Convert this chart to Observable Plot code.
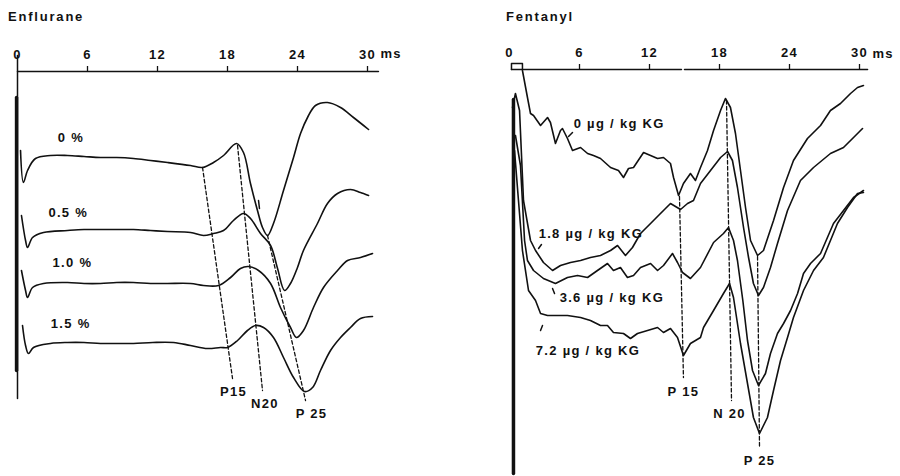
<!DOCTYPE html>
<html><head><meta charset="utf-8">
<script src="https://cdn.jsdelivr.net/npm/d3@7"></script>
<script src="https://cdn.jsdelivr.net/npm/@observablehq/plot@0.6"></script>
<style>
body{margin:0;background:#fff;}
#wrap{position:relative;width:900px;height:476px;overflow:hidden;background:#fff;}
#left,#right{position:absolute;top:0;width:450px;height:476px;}
#left{left:0}#right{left:450px}
.title{position:absolute;top:10px;font:bold 13px "Liberation Sans",Arial,sans-serif;letter-spacing:1.8px;color:#111;line-height:1;}
</style></head><body>
<div id="wrap"><div id="left"></div><div id="right"></div>
<div class="title" style="left:8px">Enflurane</div>
<div class="title" style="left:506px">Fentanyl</div></div>
<script>
// ---------- shared ----------
const tickValues = [0, 6, 12, 18, 24, 30];
const tickLabels = ["0", "6", "12", "18", "24", "30"];
const unitLabel = "ms";

// ---------- Enflurane (latency ms, deflection units below time axis) ----------
const enfNames = ["0 %", "0.5 %", "1.0 %", "1.5 %"];
const enf00 = [[0.26,79],[0.51,111],[0.86,99],[1.54,87],[2.83,84],[4.29,84],[5.7,85],[7.11,86],[8.5,86],[9.94,87],[11.4,89],[12.86,91],[14.83,94],[15.86,96],[16.8,91],[17.66,84],[18.77,72],[19.37,81],[19.97,112],[20.57,139],[21.0,156],[21.43,164],[21.94,152],[22.8,119],[23.66,86],[24.26,62],[24.86,46],[25.54,34],[26.57,31],[27.69,36],[28.8,46],[30.09,58]];
const enf05 = [[0.34,144],[0.69,169],[0.86,176],[1.29,166],[2.23,161],[4.29,159],[5.7,158],[7.11,158],[8.5,158],[9.94,158],[11.4,159],[12.86,160],[14.83,161],[15.94,164],[16.8,162],[17.66,159],[18.51,149],[19.37,142],[19.97,147],[20.83,162],[21.69,174],[22.29,197],[22.89,219],[23.4,212],[24.0,196],[24.51,179],[25.71,152],[26.57,132],[27.43,122],[28.54,118],[29.4,121],[30.09,124]];
const enf10 = [[0.34,199],[0.69,219],[0.86,226],[1.29,216],[2.23,212],[4.29,211],[5.7,212],[7.11,212],[8.5,211],[9.94,211],[11.4,212],[12.86,212],[14.83,212],[15.94,214],[17.23,214],[18.26,206],[19.11,197],[19.8,195],[20.66,199],[21.69,212],[22.54,236],[23.4,256],[23.91,266],[24.51,259],[25.37,236],[26.23,216],[27.43,199],[28.29,189],[29.4,186],[30.43,182]];
const enf15 = [[0.43,254],[0.69,274],[0.94,282],[1.37,276],[2.83,272],[4.29,271],[5.7,271],[7.11,272],[8.5,272],[9.94,272],[11.6,271],[13.37,271],[14.83,274],[16.29,277],[17.4,276],[18.0,276],[18.86,269],[19.71,259],[20.4,254],[21.09,256],[21.94,266],[22.8,286],[23.66,306],[24.6,320],[25.29,316],[25.97,299],[26.83,279],[27.69,266],[28.54,256],[29.4,247],[30.43,245]];
const enfLabelAt = [[3.45,66],[2.65,141],[3.0,191],[2.85,252]];
const enfPeaks = ["P15", "N20", "P 25"];
const enfPeakLines = [[[15.86,96],[18.43,307]], [[18.86,74],[21.0,319]], [[21.43,164],[24.69,329]]];
const enfPeakLabelAt = [[18.51,320],[21.2,332],[25.2,342]];
const enfArtifact = [[0,-16],[0,327]];
const enfArtifactCore = [[-0.08,26],[-0.08,299]];
const enfAxis = [[0,0],[30.94,0]];
const enfMark = [[20.66,129],[20.74,137]];

// ---------- Fentanyl ----------
const fenNames = ["0 µg / kg KG", "1.8 µg / kg KG", "3.6 µg / kg KG", "7.2 µg / kg KG"];
const fen00 = [[1.11,1],[1.54,28],[1.8,44],[2.06,46],[2.66,56],[3.26,48],[3.51,53],[3.94,74],[4.37,61],[4.54,59],[4.97,69],[5.4,81],[6.09,78],[6.69,84],[7.2,86],[7.8,89],[8.66,98],[9.34,101],[9.77,108],[10.2,99],[10.63,98],[11.49,83],[12.09,86],[12.69,89],[13.2,88],[13.8,94],[14.06,108],[14.49,126],[14.91,114],[15.51,104],[15.94,111],[16.37,98],[16.97,81],[17.49,61],[18.09,41],[18.51,29],[18.94,38],[19.37,64],[19.8,101],[20.23,138],[20.66,171],[21.26,186],[21.77,181],[22.63,151],[23.49,118],[24.34,91],[25.54,69],[26.66,56],[27.51,41],[28.37,34],[29.23,24],[29.83,18],[30.34,16]];
const fen18 = [[0.26,38],[0.51,24],[0.86,41],[1.2,131],[1.8,171],[2.23,181],[2.91,193],[3.69,201],[4.37,196],[5.23,193],[6.09,191],[6.94,188],[7.8,186],[8.66,181],[9.26,176],[9.94,186],[10.54,178],[11.23,164],[12.09,154],[12.94,144],[13.8,134],[14.66,140],[15.26,134],[15.77,131],[16.37,114],[17.23,101],[18.09,88],[18.69,82],[19.11,91],[19.54,118],[20.06,158],[20.49,188],[20.91,214],[21.34,226],[21.77,218],[22.37,198],[22.97,174],[23.83,141],[24.94,111],[26.06,98],[27.51,84],[28.63,78],[29.49,68],[30.26,59]];
const fen36 = [[0.34,69],[0.51,66],[0.94,96],[1.29,171],[1.54,191],[2.06,201],[2.91,209],[3.94,214],[4.97,208],[5.83,206],[6.69,208],[7.54,201],[8.4,194],[8.91,201],[9.51,198],[10.11,208],[10.63,206],[11.23,198],[12.09,194],[12.69,201],[13.2,196],[13.97,184],[14.4,193],[14.83,203],[15.51,209],[16.37,198],[17.49,173],[18.34,164],[18.77,158],[19.2,171],[19.54,191],[20.0,231],[20.4,271],[20.83,301],[21.34,316],[21.94,304],[22.37,284],[22.97,264],[23.49,254],[24.09,241],[24.69,224],[25.2,204],[25.8,194],[26.66,184],[27.77,154],[28.63,141],[29.49,128],[30.34,121]];
const fen72 = [[0.43,81],[0.77,131],[1.11,181],[1.63,221],[2.23,231],[2.66,244],[3.26,246],[4.11,246],[4.97,246],[6.09,248],[6.94,251],[7.8,256],[8.4,256],[8.91,263],[9.77,264],[10.37,269],[10.97,264],[11.83,261],[12.69,258],[13.2,263],[13.8,259],[14.4,268],[14.91,286],[15.51,274],[16.37,268],[16.63,258],[17.49,241],[18.34,224],[18.86,214],[19.2,228],[19.8,274],[20.4,314],[20.91,348],[21.43,364],[22.11,348],[22.63,321],[23.23,291],[23.83,268],[24.34,248],[25.2,221],[26.06,201],[26.91,188],[27.51,171],[28.11,154],[28.97,138],[29.83,124],[30.34,123]];
const fenLabelAt = [[5.5,54],[2.5,164],[4.3,228],[2.25,281]];
const fenArrows = [[[5.06,67],[5.4,63]], [[2.49,179],[2.74,175]], [[3.69,219],[3.86,224]], [[2.66,261],[2.83,256]]];
const fenPeaks = ["P 15", "N 20", "P 25"];
const fenPeakLines = [[[14.57,127],[14.91,308]], [[18.6,31],[19.03,331]], [[21.26,187],[21.43,378]]];
const fenPeakLabelAt = [[14.91,322],[18.86,344],[21.43,391]];
const fenArtifact = [[0.34,30],[0.34,404]];
const fenStimBox = [[0.17,0],[0.17,-6],[1.11,-6],[1.11,0]];
const fenAxis = [[[0.17,0],[14.74,0]], [[15.0,0],[30.69,0]]];

// ---------- helpers ----------
const toRows = (name, arr) => arr.map(([ms, v]) => ({trace: name, ms, v}));
const segRows = (segs, prefix) => segs.flatMap((s, i) => toRows(prefix + i, s));
const labelRows = (names, at) => names.map((t, i) => ({t, ms: at[i][0], v: at[i][1]}));
const ink = "#111";
const svgStyle = 'font-family:"Liberation Sans",Arial,Helvetica,sans-serif;font-size:13px;font-weight:bold;letter-spacing:1.3px;color:#111;background:white;';

function panel({range, axisY, traces, curve, peakLines, peakLabels, seriesLabels, lines, thick}) {
  return Plot.plot({
    width: 450, height: 476,
    marginTop: axisY, marginBottom: 0, marginLeft: 0, marginRight: 0,
    x: {domain: [0, 30], range, label: null},
    y: {domain: [0, 476 - axisY], range: [axisY, 476], axis: null, label: null},
    style: svgStyle,
    marks: [
      Plot.axisX({anchor: "top", ticks: tickValues, tickSize: 0, tickPadding: 13, tickFormat: d => tickLabels[tickValues.indexOf(d)], fill: ink}),
      Plot.text([unitLabel], {x: 30, y: -(axisY - 53), dx: 13, text: d => d, textAnchor: "start", lineAnchor: "middle", fill: ink}),
      Plot.ruleX(tickValues.slice(1), {y1: 0, y2: -5, stroke: ink, strokeWidth: 1.3}),
      Plot.line(lines, {x: "ms", y: "v", z: "trace", stroke: ink, strokeWidth: 1.5}),
      Plot.line(thick, {x: "ms", y: "v", z: "trace", stroke: ink, strokeWidth: 3.5}),
      Plot.line(traces, {x: "ms", y: "v", z: "trace", stroke: ink, strokeWidth: 1.6, curve}),
      Plot.line(peakLines, {x: "ms", y: "v", z: "trace", stroke: ink, strokeWidth: 1.3, strokeDasharray: "3.5,2.5"}),
      Plot.text(peakLabels, {x: "ms", y: "v", text: "t", textAnchor: "middle", lineAnchor: "middle", fill: ink}),
      Plot.text(seriesLabels, {x: "ms", y: "v", text: "t", textAnchor: "start", lineAnchor: "middle", fill: ink})
    ]
  });
}

// ---------- left ----------
const enfTraces = [enf00, enf05, enf10, enf15].flatMap((a, i) => toRows(enfNames[i], a));
const left = panel({
  range: [17, 367], axisY: 71,
  traces: enfTraces, curve: "catmull-rom",
  peakLines: segRows(enfPeakLines, "enfpk"),
  peakLabels: labelRows(enfPeaks, enfPeakLabelAt),
  seriesLabels: labelRows(enfNames, enfLabelAt),
  lines: [...toRows("axis", enfAxis), ...toRows("art", enfArtifact), ...toRows("mark", enfMark)],
  thick: toRows("core", enfArtifactCore)
});
document.getElementById("left").append(left);

// ---------- right ----------
const fenTraces = [fen00, fen18, fen36, fen72].flatMap((a, i) => toRows(fenNames[i], a));
const right = panel({
  range: [59, 409], axisY: 69,
  traces: fenTraces, curve: "linear",
  peakLines: segRows(fenPeakLines, "fenpk"),
  peakLabels: labelRows(fenPeaks, fenPeakLabelAt),
  seriesLabels: labelRows(fenNames, fenLabelAt),
  lines: [...segRows(fenAxis, "axis"), ...toRows("box", fenStimBox), ...segRows(fenArrows, "arrow")],
  thick: toRows("core", fenArtifact)
});
document.getElementById("right").append(right);
</script>
</body></html>
